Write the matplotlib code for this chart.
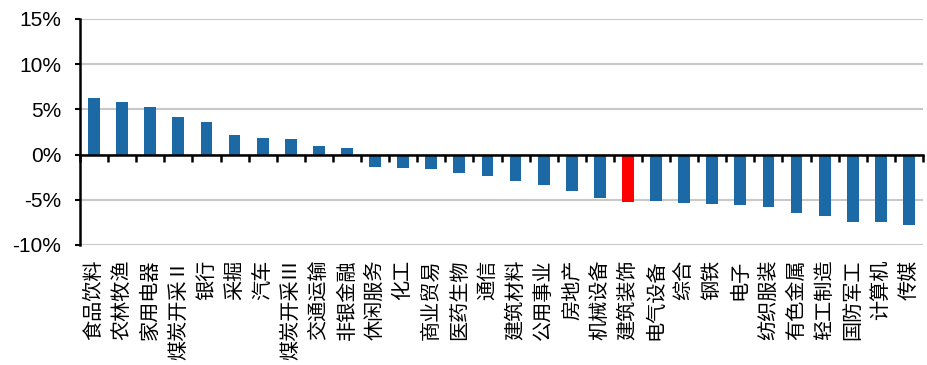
import matplotlib
matplotlib.use("Agg")
import matplotlib.pyplot as plt
import matplotlib.transforms as mtransforms
import numpy as np

plt.rcParams['font.family'] = ['Noto Sans CJK SC', 'DejaVu Sans']

sectors = ['食品饮料', '农林牧渔', '家用电器', '煤炭开采Ⅱ', '银行', '采掘', '汽车',
           '煤炭开采Ⅲ', '交通运输', '非银金融', '休闲服务', '化工', '商业贸易',
           '医药生物', '通信', '建筑材料', '公用事业', '房地产', '机械设备',
           '建筑装饰', '电气设备', '综合', '钢铁', '电子', '纺织服装',
           '有色金属', '轻工制造', '国防军工', '计算机', '传媒']
returns = [6.30, 5.78, 5.22, 4.11, 3.63, 2.19, 1.89, 1.78, 0.93, 0.74,
           -1.37, -1.48, -1.59, -2.00, -2.37, -2.93, -3.37, -4.07, -4.81,
           -5.19, -5.15, -5.30, -5.44, -5.63, -5.78, -6.48, -6.81, -7.41,
           -7.44, -7.78]
highlight = '建筑装饰'

blue = '#1b6aa5'
red = '#ff0000'

fig = plt.figure(figsize=(9.28, 3.65), dpi=100)
ax = fig.add_axes([80 / 928, 1 - 245 / 365, 843 / 928, 226 / 365])

x = np.arange(len(sectors))
colors = [red if s == highlight else blue for s in sectors]
ax.bar(x, returns, width=0.42, color=colors, zorder=2)

ax.set_xlim(-0.5, len(sectors) - 0.5)
ax.set_ylim(-10, 15)
ax.set_yticks(np.arange(-10, 16, 5))
ax.set_yticklabels([f'{v}%' for v in range(-10, 16, 5)],
                   fontfamily='Liberation Sans', fontsize=15)
ax.yaxis.grid(True, color='#c8c8c8', linewidth=1.5, zorder=0)
ax.set_axisbelow(True)
ax.tick_params(axis='y', direction='out', length=3.5, width=1.5, pad=10)

# category axis sits on the zero line, ticks between bars
ax.spines['bottom'].set_position(('data', 0))
ax.spines['bottom'].set_linewidth(1.8)
ax.spines['bottom'].set_zorder(3)
ax.spines['left'].set_linewidth(1.8)
ax.spines['top'].set_visible(False)
ax.spines['right'].set_visible(False)
ax.set_xticks(np.arange(-0.5, len(sectors), 1.0))
ax.set_xticklabels([])
ax.tick_params(axis='x', direction='out', length=5, width=1.8)

trans = mtransforms.blended_transform_factory(ax.transData, ax.transAxes)
for xi, name in zip(x, sectors):
    ax.text(xi, -0.065, name, transform=trans, rotation=90, ha='center',
            va='top', fontsize=14.5, fontfamily=['Noto Sans CJK SC', 'DejaVu Sans'])

fig.savefig('out.png', dpi=100)
